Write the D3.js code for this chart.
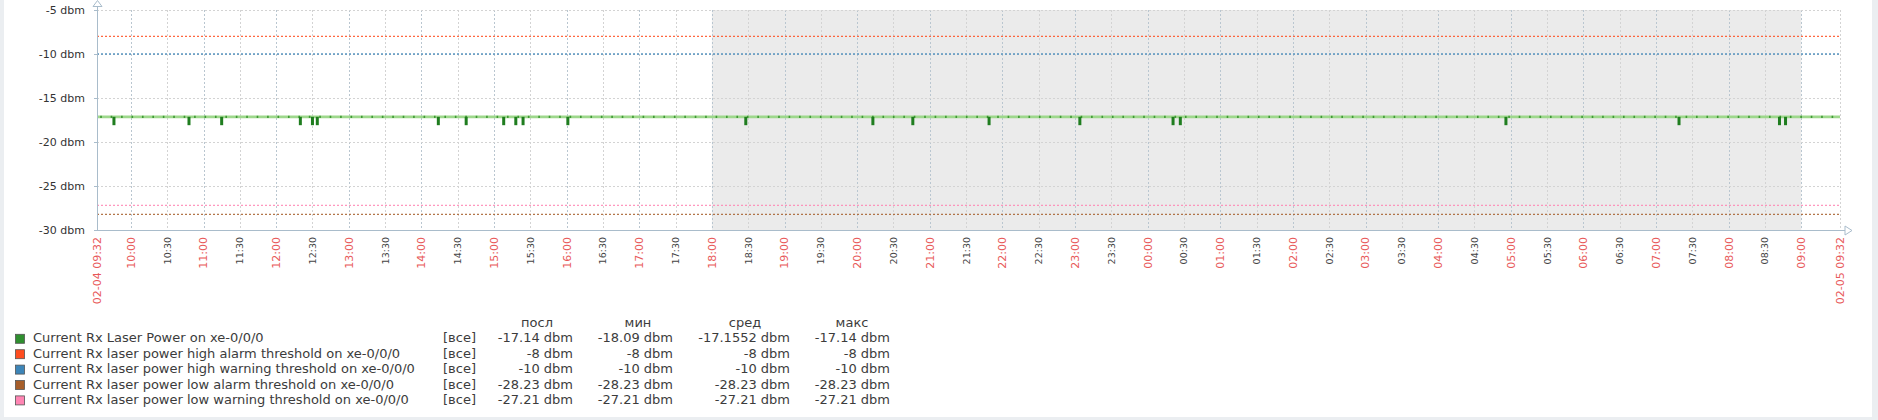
<!DOCTYPE html>
<html>
<head>
<meta charset="utf-8">
<script src="https://cdn.jsdelivr.net/npm/d3@7"></script>
<style>
  html, body { margin: 0; padding: 0; background: #ebeef1; }
  svg { display: block; font-family: "DejaVu Sans", sans-serif; }
</style>
</head>
<body>
<svg id="chart" width="1878" height="420"></svg>
<script>
// ---------------- data ----------------
const timeStart = "2024-02-04 09:32";
const timeEnd = "2024-02-05 09:32";
const shadeStart = "2024-02-04 18:00";
const shadeEnd = "2024-02-05 09:00";

const yTicks = [-5, -10, -15, -20, -25, -30];
const yUnit = "dbm";

const seriesNames = [
  "Current Rx Laser Power on xe-0/0/0",
  "Current Rx laser power high alarm threshold on xe-0/0/0",
  "Current Rx laser power high warning threshold on xe-0/0/0",
  "Current Rx laser power low alarm threshold on xe-0/0/0",
  "Current Rx laser power low warning threshold on xe-0/0/0"
];
const seriesColors = ["#2f8f2f", "#ff4d1f", "#3d85b8", "#a65e2a", "#ff85b3"];
const lastValues = [-17.14, -8, -10, -28.23, -27.21];
const minValues = [-18.09, -8, -10, -28.23, -27.21];
const avgValues = [-17.1552, -8, -10, -28.23, -27.21];
const maxValues = [-17.14, -8, -10, -28.23, -27.21];
const columnHeaders = ["посл", "мин", "сред", "макс"];
const rangeLabel = "[все]";

// Rx power: steady level with short dips at these times
const rxLevel = -17.14;
const rxDipValue = -18.09;
const rxDipTimes = [
  "2024-02-04 09:46", "2024-02-04 10:48", "2024-02-04 11:15", "2024-02-04 12:20",
  "2024-02-04 12:30", "2024-02-04 12:34", "2024-02-04 14:14", "2024-02-04 14:37",
  "2024-02-04 15:08", "2024-02-04 15:18", "2024-02-04 15:24", "2024-02-04 16:01",
  "2024-02-04 18:28", "2024-02-04 20:13", "2024-02-04 20:46", "2024-02-04 21:49",
  "2024-02-04 23:04", "2024-02-05 00:21", "2024-02-05 00:27", "2024-02-05 04:56",
  "2024-02-05 07:19", "2024-02-05 08:42", "2024-02-05 08:47"
];

// ---------------- drawing ----------------
(function () {
const parse = d3.timeParse("%Y-%m-%d %H:%M");
const svg = d3.select("#chart");

// white panel inside light frame
svg.append("rect").attr("x", 4).attr("y", 0).attr("width", 1868).attr("height", 417).attr("fill", "#ffffff");

const pLeft = 97, pRight = 1840, pTop = 10, pBottom = 230;
const t0 = parse(timeStart), t1 = parse(timeEnd);
const x = d3.scaleTime().domain([t0, t1]).range([pLeft, pRight]);
const y = d3.scaleLinear().domain([-30, -5]).range([pBottom, pTop]);

// shaded (non-working) period
svg.append("rect")
  .attr("x", x(parse(shadeStart))).attr("y", pTop)
  .attr("width", x(parse(shadeEnd)) - x(parse(shadeStart)))
  .attr("height", pBottom - pTop)
  .attr("fill", "#ebebeb");

// vertical grid every 30 minutes (skip ones too close to the end label)
const halfHours = d3.timeMinute.every(30).range(t0, t1).filter(d => x(t1) - x(d) > 20);
svg.append("g").selectAll("line").data(halfHours.concat([t1])).join("line")
  .attr("x1", d => Math.round(x(d)) + 0.5).attr("x2", d => Math.round(x(d)) + 0.5)
  .attr("y1", pTop).attr("y2", pBottom)
  .attr("stroke", d => d.getMinutes() === 0 ? "#b9c6d0" : "#d3d3d3")
  .attr("stroke-width", 1)
  .attr("stroke-dasharray", "2,2");

// horizontal grid
svg.append("g").selectAll("line").data(yTicks.filter(v => v !== -30)).join("line")
  .attr("x1", pLeft).attr("x2", pRight)
  .attr("y1", d => Math.round(y(d)) + 0.5).attr("y2", d => Math.round(y(d)) + 0.5)
  .attr("stroke", "#d3d3d3").attr("stroke-dasharray", "2,2");

// threshold lines (series 1..4)
const thresholds = [1, 2, 3, 4];
svg.append("g").selectAll("line").data(thresholds).join("line")
  .attr("x1", pLeft).attr("x2", pRight)
  .attr("y1", i => y(lastValues[i])).attr("y2", i => y(lastValues[i]))
  .attr("stroke", i => seriesColors[i])
  .attr("stroke-width", 1.3)
  .attr("stroke-opacity", 0.85)
  .attr("stroke-dasharray", "2,2");

// Rx power line
const line = d3.line().x(d => x(d[0])).y(d => y(d[1]));
const rxLine = [[t0, rxLevel], [t1, rxLevel]];
svg.append("path").attr("d", line(rxLine))
  .attr("fill", "none").attr("stroke", "#9ed88c").attr("stroke-width", 2.6);
svg.append("path").attr("d", line(rxLine))
  .attr("fill", "none").attr("stroke", "#3f9a35").attr("stroke-width", 2.4)
  .attr("stroke-dasharray", "1.6,8.83").attr("stroke-dashoffset", 7.2);

// dips
svg.append("g").selectAll("rect").data(rxDipTimes.map(parse)).join("rect")
  .attr("x", d => x(d) - 1.5).attr("width", 3)
  .attr("y", y(rxLevel))
  .attr("height", y(rxDipValue) - y(rxLevel))
  .attr("fill", "#1f7d1f");

// axes
const axisColor = "#a9bccb";
svg.append("line").attr("x1", pLeft + 0.5).attr("x2", pLeft + 0.5).attr("y1", 5).attr("y2", pBottom)
  .attr("stroke", axisColor);
svg.append("path").attr("d", `M${pLeft + 0.5},0.5 L${pLeft - 4},6.5 L${pLeft + 5},6.5 Z`)
  .attr("fill", "#ffffff").attr("stroke", axisColor);
svg.append("line").attr("x1", pLeft).attr("x2", 1845).attr("y1", pBottom + 0.5).attr("y2", pBottom + 0.5)
  .attr("stroke", axisColor);
svg.append("path").attr("d", `M1845,${pBottom - 4} L1852,${pBottom + 0.5} L1845,${pBottom + 5} Z`)
  .attr("fill", "#ffffff").attr("stroke", axisColor);

// y tick labels
svg.append("g").selectAll("line").data(yTicks).join("line")
  .attr("x1", pLeft - 3).attr("x2", pLeft).attr("y1", d => Math.round(y(d)) + 0.5).attr("y2", d => Math.round(y(d)) + 0.5)
  .attr("stroke", axisColor);
svg.append("g").selectAll("text").data(yTicks).join("text")
  .attr("x", 85).attr("y", d => y(d)).attr("dy", "0.36em")
  .attr("text-anchor", "end").attr("font-size", 11).attr("fill", "#333")
  .text(d => `${d} ${yUnit}`);

// x labels
const fmtHM = d3.timeFormat("%H:%M");
const fmtFull = d3.timeFormat("%m-%d %H:%M");
const isEnd = d => (+d === +t0 || +d === +t1);
const isMajor = d => (isEnd(d) || d.getMinutes() === 0);
const xLabels = [t0].concat(halfHours.filter(d => +d !== +t0)).concat([t1]);
svg.append("g").selectAll("text").data(xLabels).join("text")
  .attr("transform", d => `translate(${x(d)},237) rotate(-90)`)
  .attr("dy", "0.36em")
  .attr("text-anchor", "end")
  .attr("font-size", d => isMajor(d) ? 11 : 9.5)
  .attr("fill", d => isMajor(d) ? "#e8595a" : "#444")
  .text(d => isEnd(d) ? fmtFull(d) : fmtHM(d));

// legend
const rowBase = 342.3, rowStep = 15.4;
const legend = svg.append("g").attr("font-size", 13).attr("fill", "#3c3c3c");
const colRight = [573, 673, 790, 890];
const colCenter = [537, 638, 745, 852];
legend.selectAll("text.hdr").data(columnHeaders).join("text").attr("class", "hdr")
  .attr("x", (d, i) => colCenter[i]).attr("y", 326.5).attr("text-anchor", "middle").text(d => d);

const rows = legend.selectAll("g.row").data(seriesNames).join("g").attr("class", "row");
rows.append("rect")
  .attr("x", 15.5).attr("y", (d, i) => rowBase - 8 + i * rowStep)
  .attr("width", 9).attr("height", 9)
  .attr("fill", (d, i) => seriesColors[i]).attr("stroke", "#555").attr("stroke-width", 0.8);
rows.append("text").attr("x", 33).attr("y", (d, i) => rowBase + i * rowStep).text(d => d);
rows.append("text").attr("x", 443).attr("y", (d, i) => rowBase + i * rowStep).text(rangeLabel);
const cols = [lastValues, minValues, avgValues, maxValues];
cols.forEach((vals, c) => {
  rows.append("text").attr("x", colRight[c]).attr("y", (d, i) => rowBase + i * rowStep)
    .attr("text-anchor", "end").text((d, i) => `${vals[i]} ${yUnit}`);
});
})();
</script>
</body>
</html>
